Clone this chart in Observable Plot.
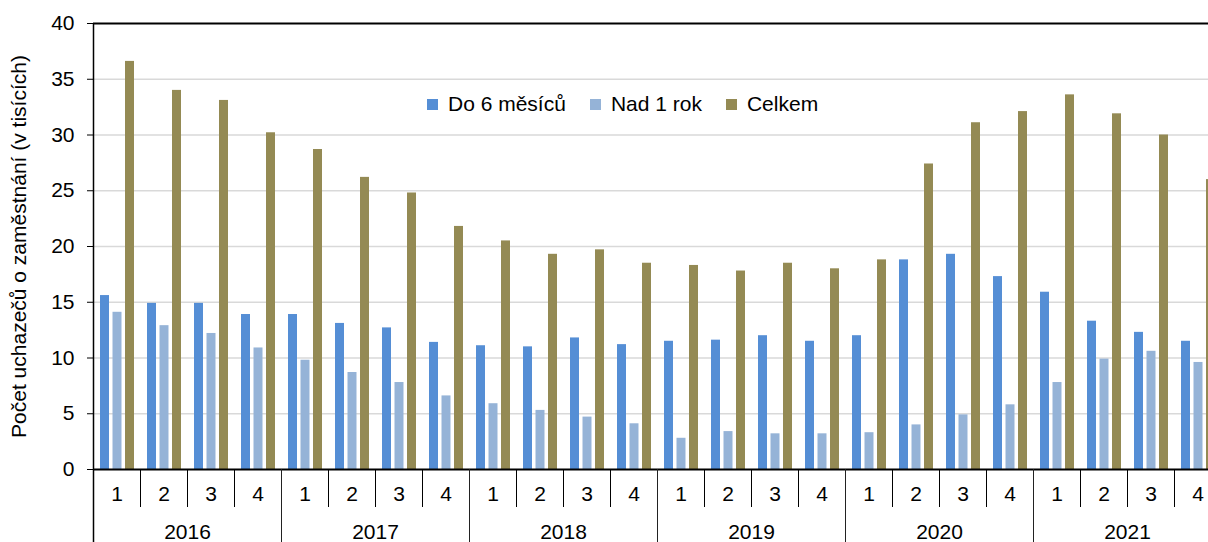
<!DOCTYPE html>
<html>
<head>
<meta charset="utf-8">
<script src="https://cdn.jsdelivr.net/npm/d3@7"></script>
<script src="https://cdn.jsdelivr.net/npm/@observablehq/plot@0.6"></script>
<style>
  html, body { margin: 0; padding: 0; background: #fff; overflow: hidden; }
  #wrap { position: relative; width: 1208px; height: 542px; overflow: hidden; }
  #wrap svg { max-width: none !important; display: block; }
  #legend { position: absolute; left: 427px; top: 92px; display: flex; align-items: center;
    font-family: "Liberation Sans", Arial, sans-serif; font-size: 21px; color: #000; line-height: 24px; }
  .item { display: flex; align-items: center; margin-right: 24px; }
  .sw { width: 11px; height: 11px; margin-right: 10px; }
</style>
</head>
<body>
<div id="wrap"><div id="legend"></div></div>
<script>
const years = ["2016", "2017", "2018", "2019", "2020", "2021"];
const quarters = ["1", "2", "3", "4"];
const seriesNames = ["Do 6 měsíců", "Nad 1 rok", "Celkem"];
const seriesColors = ["#558ED5", "#95B3D7", "#948A54"];
const yTicks = [0, 5, 10, 15, 20, 25, 30, 35, 40];
const yLabel = "Počet uchazečů o zaměstnání (v tisících)";

const do6 = [15.6, 14.9, 14.9, 13.9, 13.9, 13.1, 12.7, 11.4, 11.1, 11.0, 11.8, 11.2,
             11.5, 11.6, 12.0, 11.5, 12.0, 18.8, 19.3, 17.3, 15.9, 13.3, 12.3, 11.5];
const nad1 = [14.1, 12.9, 12.2, 10.9, 9.8, 8.7, 7.8, 6.6, 5.9, 5.3, 4.7, 4.1,
              2.8, 3.4, 3.2, 3.2, 3.3, 4.0, 4.9, 5.8, 7.8, 9.9, 10.6, 9.6];
const celkem = [36.6, 34.0, 33.1, 30.2, 28.7, 26.2, 24.8, 21.8, 20.5, 19.3, 19.7, 18.5,
                18.3, 17.8, 18.5, 18.0, 18.8, 27.4, 31.1, 32.1, 33.6, 31.9, 30.0, 26.0];

const seriesValues = [do6, nad1, celkem];
const rows = seriesValues.map((vals, s) => vals.map((v, i) => ({
  year: years[Math.floor(i / 4)], quarter: quarters[i % 4], value: v, series: seriesNames[s]
})));

const marginLeft = 93, marginTop = 23, plotRight = 1221, W = 1230, H = 542, marginBottom = 73;
const cell = (plotRight - marginLeft) / (years.length * quarters.length);
const half = cell / 2;
const plotH = H - marginTop - marginBottom;
const barW = 9;
const barInsets = [[7, cell - 7 - barW], [19.5, cell - 19.5 - barW], [32, cell - 32 - barW]];

const font = '"Liberation Sans", Arial, sans-serif';

const chart = Plot.plot({
  width: W, height: H,
  marginLeft, marginTop, marginRight: W - plotRight, marginBottom,
  style: { fontFamily: font, fontSize: "21px", color: "#000", background: "transparent" },
  fx: { domain: years, padding: 0, axis: "bottom", tickSize: 0, tickPadding: 55, label: null },
  x: { domain: quarters, padding: 0, axis: null },
  y: { domain: [0, 40], axis: null },
  marks: [
    Plot.ruleY(yTicks.filter(t => t > 0 && t < 40), { stroke: "#d9d9d9", strokeWidth: 1.5 }),
    ...rows.map((data, s) => Plot.barY(data, {
      fx: "year", x: "quarter", y: "value", fill: seriesColors[s],
      insetLeft: barInsets[s][0], insetRight: barInsets[s][1]
    })),
    Plot.ruleY([0, 40], { stroke: "#000", strokeWidth: 2 }),
    Plot.ruleX([years[0]], { fx: d => d, x: () => quarters[0], dx: -half, stroke: "#000", strokeWidth: 1.5, insetBottom: -marginBottom }),
    Plot.ruleX(years.slice(1), { fx: d => d, x: () => quarters[0], dx: -half, stroke: "#222", strokeWidth: 1, insetTop: plotH, insetBottom: -marginBottom }),
    Plot.ruleX(quarters.slice(1), { x: d => d, dx: -half, stroke: "#000", strokeWidth: 1, insetTop: plotH, insetBottom: -38 }),
    Plot.axisX({ tickSize: 0, tickPadding: 17, fontSize: 21, label: null }),
    Plot.axisY({ ticks: yTicks, tickSize: 6, tickPadding: 13, fontSize: 21, stroke: "#000",
      label: yLabel, labelAnchor: "center", labelOffset: 82, labelArrow: "none" })
  ]
});

const wrap = document.getElementById("wrap");
wrap.insertBefore(chart, wrap.firstChild);

const legend = document.getElementById("legend");
seriesNames.forEach((name, i) => {
  const item = document.createElement("div");
  item.className = "item";
  const sw = document.createElement("div");
  sw.className = "sw";
  sw.style.background = seriesColors[i];
  const t = document.createElement("span");
  t.textContent = name;
  item.appendChild(sw); item.appendChild(t);
  legend.appendChild(item);
});
</script>
</body>
</html>
